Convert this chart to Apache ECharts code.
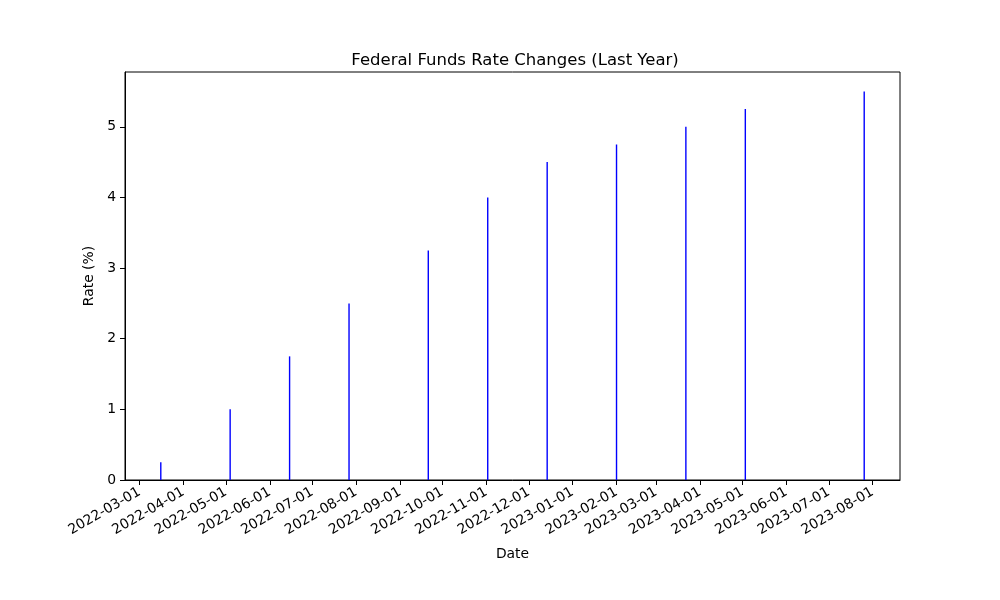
<!DOCTYPE html>
<html>
<head>
<meta charset="utf-8">
<script src="https://cdn.jsdelivr.net/npm/echarts@6/dist/echarts.min.js"></script>
<style>
  html, body { margin: 0; padding: 0; background: #fff; }
  #main { width: 1000px; height: 600px; }
</style>
</head>
<body>
<div id="main"></div>
<script>
// FOMC decision dates and target rate (upper bound, %)
var dates = ['2022-03-16', '2022-05-04', '2022-06-15', '2022-07-27', '2022-09-21', '2022-11-02',
             '2022-12-14', '2023-02-01', '2023-03-22', '2023-05-03', '2023-07-26'];
var rates = [0.25, 1.00, 1.75, 2.50, 3.25, 4.00, 4.50, 4.75, 5.00, 5.25, 5.50];

var monthTicks = ['2022-03-01', '2022-04-01', '2022-05-01', '2022-06-01', '2022-07-01', '2022-08-01',
                  '2022-09-01', '2022-10-01', '2022-11-01', '2022-12-01', '2023-01-01', '2023-02-01',
                  '2023-03-01', '2023-04-01', '2023-05-01', '2023-06-01', '2023-07-01', '2023-08-01'];
var yTicks = [0, 1, 2, 3, 4, 5];

function ts(s) {
    var p = s.split('-');
    return Date.UTC(+p[0], +p[1] - 1, +p[2]);
}
function fmt(v) {
    var d = new Date(v);
    var m = d.getUTCMonth() + 1, day = d.getUTCDate();
    return d.getUTCFullYear() + '-' + (m < 10 ? '0' + m : m) + '-' + (day < 10 ? '0' + day : day);
}

var DAY = 86400000;
var seriesData = dates.map(function (d, i) { return [ts(d), rates[i]]; });
// matplotlib-like 5% margins around the bars
var span = ts(dates[dates.length - 1]) - ts(dates[0]) + 0.8 * DAY;
var xMin = ts(dates[0]) - 0.4 * DAY - span * 0.05;
var xMax = ts(dates[dates.length - 1]) + 0.4 * DAY + span * 0.05;
var yMax = 5.5 * 1.05;

var font = 'DejaVu Sans';
var myChart = echarts.init(document.getElementById('main'));
var option = {
    animation: false,
    title: {
        text: 'Federal Funds Rate Changes (Last Year)',
        left: 510, top: 47, textAlign: 'center',
        textStyle: { fontFamily: font, fontSize: 16.5, fontWeight: 'normal', color: '#000' }
    },
    grid: {
        left: 125, right: 100, top: 72, bottom: 120,
        show: true, borderColor: '#000', borderWidth: 1, backgroundColor: 'transparent'
    },
    xAxis: {
        type: 'value',
        min: xMin, max: xMax,
        scale: true,
        name: 'Date', nameLocation: 'middle', nameGap: 67,
        nameTextStyle: { fontFamily: font, fontSize: 13.9, color: '#000' },
        axisLine: { show: true, onZero: false, lineStyle: { color: '#000', width: 1 } },
        axisTick: { show: true, length: 5, lineStyle: { color: '#000' },
                    customValues: monthTicks.map(ts) },
        axisLabel: {
            customValues: monthTicks.map(ts),
            rotate: 30, margin: 11,
            fontFamily: font, fontSize: 13.9, color: '#000',
            formatter: fmt
        },
        splitLine: { show: false }
    },
    yAxis: {
        type: 'value',
        min: 0, max: yMax,
        name: 'Rate (%)', nameLocation: 'middle', nameGap: 25, nameRotate: 90,
        nameTextStyle: { fontFamily: font, fontSize: 13.9, color: '#000' },
        axisLine: { show: true, lineStyle: { color: '#000', width: 1 } },
        axisTick: { show: true, length: 5, lineStyle: { color: '#000' }, customValues: yTicks },
        axisLabel: { customValues: yTicks, margin: 9, fontFamily: font, fontSize: 13.9, color: '#000' },
        splitLine: { show: false }
    },
    series: [{
        type: 'bar',
        data: seriesData,
        barWidth: 1.4,
        itemStyle: { color: '#0000ff' }
    }]
};
myChart.setOption(option);
</script>
</body>
</html>
